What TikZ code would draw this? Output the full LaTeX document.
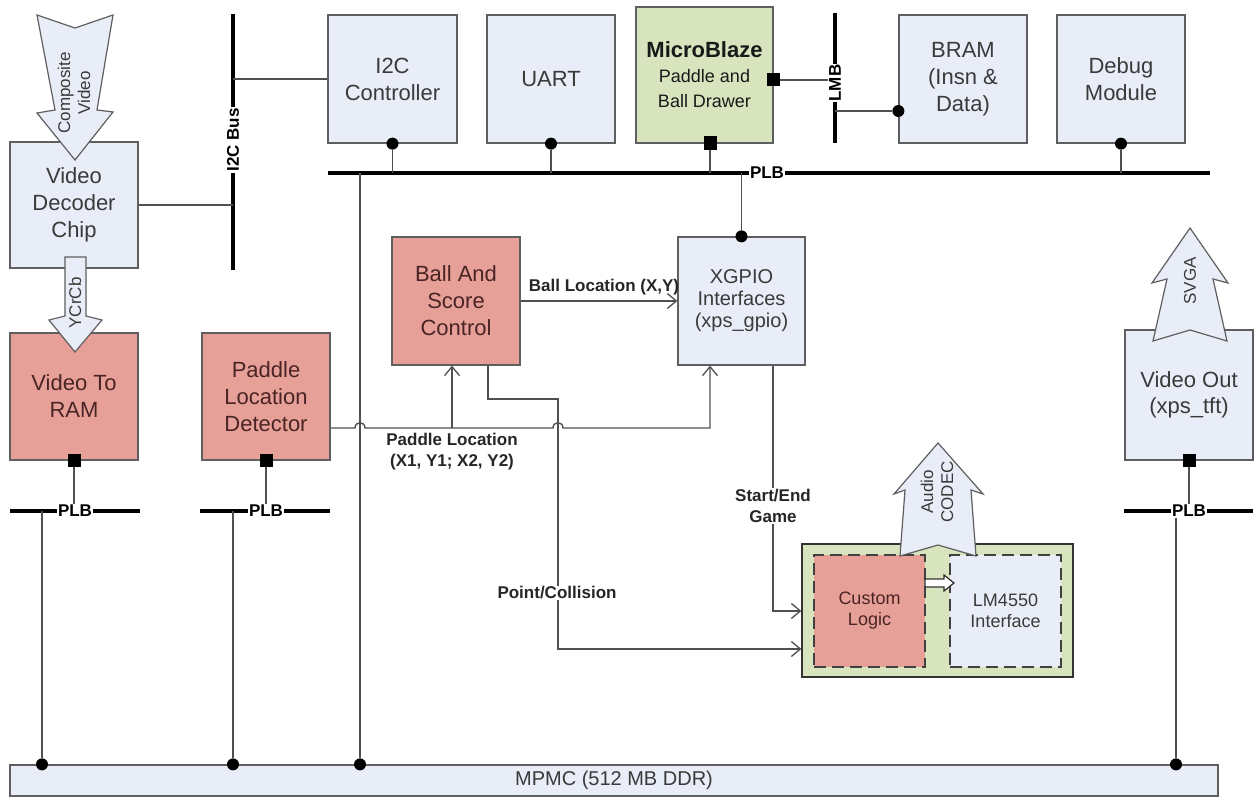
\documentclass[tikz,border=0pt]{standalone}
\usepackage{fontspec}
\setmainfont{Liberation Sans}
\usetikzlibrary{arrows.meta}
\definecolor{boxblue}{HTML}{E8EDF7}
\definecolor{boxpink}{HTML}{E6A098}
\definecolor{boxgreen}{HTML}{D7E4BD}
\definecolor{edge}{HTML}{5F5F5F}
\definecolor{wire}{HTML}{505050}
\definecolor{pinktext}{HTML}{4A2424}
\definecolor{bluetext}{HTML}{3A3A3A}
\begin{document}
\begin{tikzpicture}[x=1pt,y=-1pt,
 box/.style={draw=edge, line width=1.3pt, inner sep=0pt, align=center, minimum width=128pt, minimum height=128pt, font=\fontsize{22}{27}\selectfont},
 bluebox/.style={box, fill=boxblue, text=bluetext},
 pinkbox/.style={box, fill=boxpink, text=pinktext},
 bus/.style={line width=4.5pt, draw=black},
 conn/.style={draw=wire, line width=1.4pt},
 arr/.style={-{Straight Barb[length=9pt,width=15pt,line width=1.3pt]}},
 dot/.style={circle, fill=black, inner sep=0pt, minimum size=12pt},
 sq/.style={rectangle, fill=black, inner sep=0pt, minimum size=13pt},
 buslbl/.style={fill=white, inner sep=1pt, font=\fontsize{17}{20}\selectfont\bfseries, text=black},
 lbl/.style={inner sep=1pt, font=\fontsize{17}{21}\selectfont\bfseries, text=black!85, align=center},
 barrow/.style={draw=edge, line width=1.2pt, fill=boxblue, line join=miter},
 atxt/.style={font=\fontsize{17}{20}\selectfont, text=bluetext, align=center, rotate=90, inner sep=0pt},
 dbox/.style={draw=black!75, dash pattern=on 12pt off 6pt, line width=1.8pt, minimum width=111pt, minimum height=112pt, font=\fontsize{18}{21}\selectfont}
]
\fill[white] (0,0) rectangle (1255,797);
\useasboundingbox (0,0) rectangle (1255,797);

% ---------- boxes ----------
\node[bluebox, minimum height=126pt] (dec) at (74,205) {Video\\Decoder\\Chip};
\node[bluebox, minimum width=129pt] (i2c) at (392.5,79) {I2C\\Controller};
\node[bluebox] (uart) at (551,79) {UART};
\node[box, fill=boxgreen, text=black!90, minimum width=137pt, minimum height=136pt, font=\fontsize{18}{25}\selectfont] (mb) at (704.5,75) {{\fontsize{22}{25}\selectfont\bfseries MicroBlaze}\\Paddle and\\Ball Drawer};
\node[bluebox] (bram) at (963,79) {BRAM\\(Insn \&\\Data)};
\node[bluebox] (dbg) at (1121,79) {Debug\\Module};
\node[pinkbox] (ball) at (456,301) {Ball And\\Score\\Control};
\node[bluebox, minimum width=127pt, font=\fontsize{20}{22}\selectfont] (xgpio) at (741.5,301) {XGPIO\\Interfaces\\(xps\_gpio)};
\node[pinkbox, minimum height=127pt] (v2r) at (74,396.5) {Video To\\RAM};
\node[pinkbox, minimum height=127pt] (pld) at (266,396.5) {Paddle\\Location\\Detector};
\node[bluebox, minimum height=130pt, font=\fontsize{22}{26}\selectfont] (vout) at (1189,395) {Video Out\\(xps\_tft)};
\node[draw=black!80, line width=1.3pt, fill=boxgreen, minimum width=271pt, minimum height=133pt, inner sep=0pt] (green) at (937.5,610.5) {};
\node[pinkbox, dbox] (cust) at (869.5,611) {Custom\\Logic};
\node[bluebox, dbox] (lm) at (1005.5,611) {LM4550\\Interface};
\node[bluebox, minimum width=1208pt, minimum height=31pt, font=\fontsize{20}{24}\selectfont] (mpmc) at (614,780.5) {MPMC (512 MB DDR)};

% ---------- bus coordinates ----------
\coordinate (i2cbT) at (233,14);  \coordinate (i2cbB) at (233,270);
\coordinate (lmbT) at (835,13);   \coordinate (lmbB) at (835,143);
\coordinate (plbTL) at (328,173); \coordinate (plbTR) at (1210,173);
\coordinate (plb1L) at (10,511);  \coordinate (plb1R) at (140,511);
\coordinate (plb2L) at (200,511); \coordinate (plb2R) at (330,511);
\coordinate (plb3L) at (1124,511);\coordinate (plb3R) at (1253,511);

\draw[bus] (i2cbT) -- (i2cbB);
\draw[bus] (lmbT) -- (lmbB);
\draw[bus] (plbTL) -- (plbTR);
\draw[bus] (plb1L) -- (plb1R);
\draw[bus] (plb2L) -- (plb2R);
\draw[bus] (plb3L) -- (plb3R);

% ---------- bus attachments ----------
\draw[conn] (i2cbT |- i2c.west) -- (i2c.west);
\draw[conn] (dec.east) -- (dec.east -| i2cbT);

\node[dot] (di2c) at (i2c.south) {};
\node[dot] (duart) at (uart.south) {};
\node[dot] (ddbg) at (dbg.south) {};
\node[sq] (smbb) at (710,143) {};
\node[sq] (smbr) at (773,80) {};
\node[dot] (dx) at (xgpio.north) {};
\draw[conn] (di2c) -- (di2c |- plbTL);
\draw[conn] (duart) -- (duart |- plbTL);
\draw[conn] (ddbg) -- (ddbg |- plbTL);
\draw[conn] (smbb) -- (smbb |- plbTL);
\draw[conn] (smbr) -- (smbr -| lmbT);
\draw[conn] (dx) -- (dx |- plbTL);

\coordinate (lmbbram) at (835,111);
\node[dot] (dbram) at (lmbbram -| bram.west) {};
\draw[conn] (lmbbram) -- (dbram);

\coordinate (tap0) at (360,173);
\coordinate (tap1) at (42,511);
\coordinate (tap2) at (233,511);
\coordinate (tap3) at (1176,511);
\node[dot] (dm0) at (tap0 |- mpmc.north) {};
\node[dot] (dm1) at (tap1 |- mpmc.north) {};
\node[dot] (dm2) at (tap2 |- mpmc.north) {};
\node[dot] (dm3) at (tap3 |- mpmc.north) {};
\draw[conn] (tap0) -- (dm0);
\draw[conn] (tap1) -- (dm1);
\draw[conn] (tap2) -- (dm2);
\draw[conn] (tap3) -- (dm3);

\node[sq] (sv2r) at (v2r.south) {};
\node[sq] (spld) at (pld.south) {};
\node[sq] (svout) at (vout.south) {};
\draw[conn] (sv2r) -- (sv2r |- plb1L);
\draw[conn] (spld) -- (spld |- plb2L);
\draw[conn] (svout) -- (svout |- plb3L);

% ---------- signal connectors ----------
\coordinate (py) at (0,428);
\coordinate (pB) at (452,428);
\coordinate (pX) at (710,428);
\draw[conn,arr] (pld.east |- py) -- (355,428) .. controls (355,421) and (365,421) .. (365,428)
   -- (553,428) .. controls (553,421) and (563,421) .. (563,428) -- (pX) -- (pX |- xgpio.south);
\draw[conn,arr] (pB) -- (pB |- ball.south);

\draw[conn,arr] (ball.east) -- (xgpio.west);

\coordinate (pc1) at (488,399);
\coordinate (pc2) at (558,399);
\coordinate (pc3) at (558,649);
\draw[conn,arr] (pc1 |- ball.south) -- (pc1) -- (pc2) -- (pc3) -- (pc3 -| green.west);

\coordinate (se1) at (773,611);
\draw[conn,arr] (se1 |- xgpio.south) -- (se1) -- (se1 -| green.west);

% ---------- block arrows ----------
\draw[barrow] (37,15) -- (75,28) -- (113,15) -- (97,110) -- (113,112) -- (75,160) -- (37,113) -- (55,110) -- cycle;
\draw[barrow] (65,257) -- (86,257) -- (86,316) -- (102,320) -- (75,352) -- (49,320) -- (65,316) -- cycle;
\draw[barrow] (1190,228) -- (1228,283) -- (1213,279) -- (1227,341) -- (1190,330) -- (1153,341) -- (1167,279) -- (1152,283) -- cycle;
\draw[barrow] (938,443) -- (983,494) -- (971,490) -- (976,556) -- (938,545) -- (900,556) -- (905,490) -- (894,494) -- cycle;
\draw[draw=black!80, fill=white, line width=1.2pt, line join=miter] (925,579) -- (944,579) -- (944,575) -- (954,583) -- (944,591) -- (944,587) -- (925,587) -- cycle;

\node[atxt] (tcv) at (74,93) {Composite\\Video};
\node[atxt] (tyc) at (75,303) {YCrCb};
\node[atxt] (tsv) at (1190,281) {SVGA};
\node[atxt] (tau) at (937,492) {Audio\\CODEC};

% ---------- labels ----------
\node[buslbl, rotate=90] (li2c) at (233,140) {I2C Bus};
\node[buslbl, rotate=90] (llmb) at (835,83) {LMB};
\node[buslbl] (lplbT) at (767,173) {PLB};
\node[buslbl] (lplb1) at (75,511) {PLB};
\node[buslbl] (lplb2) at (266,511) {PLB};
\node[buslbl] (lplb3) at (1189,511) {PLB};

\node[lbl] (lball) at (604,287) {Ball Location (X,Y)};
\node[lbl] (lpad) at (452,452) {Paddle Location\\(X1, Y1; X2, Y2)};
\node[lbl, fill=white] (lpc) at (557,593) {Point/Collision};
\node[lbl, fill=white] (lse) at (773,506) {Start/End\\Game};
\end{tikzpicture}
\end{document}
